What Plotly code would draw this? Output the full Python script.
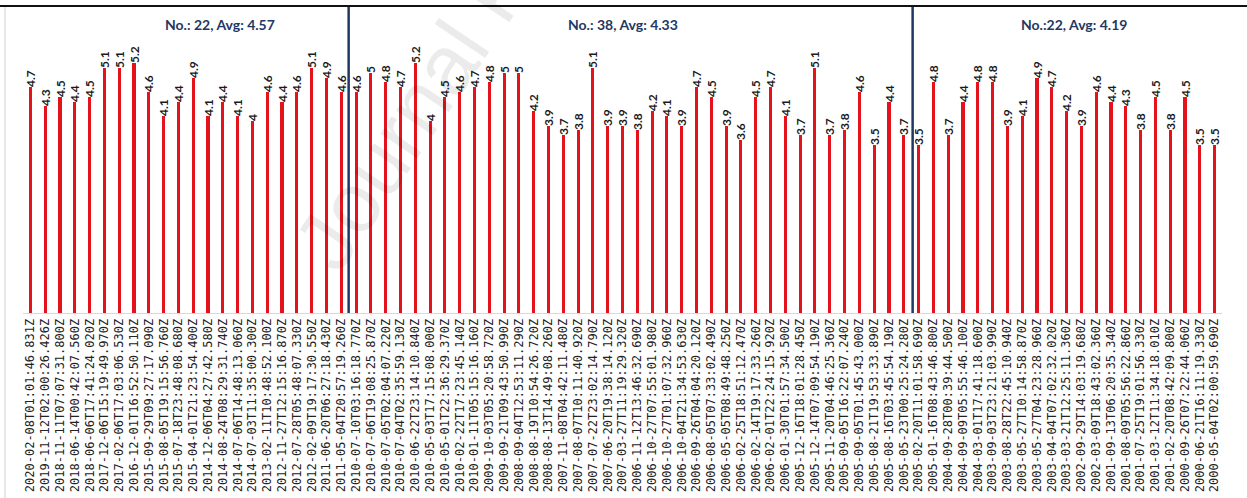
import plotly.graph_objects as go

# Event timestamps (x-axis categories), newest first
timestamps = [
    "2020-02-08T01:01:46.831Z", "2019-11-12T02:00:26.426Z", "2018-11-11T07:07:31.800Z",
    "2018-06-14T00:42:07.560Z", "2018-06-06T17:41:24.020Z", "2017-12-06T15:19:49.970Z",
    "2017-02-06T17:03:06.530Z", "2016-12-01T16:52:50.110Z", "2015-09-29T09:27:17.090Z",
    "2015-08-05T19:15:56.760Z", "2015-07-18T23:48:08.680Z", "2015-04-01T21:23:54.400Z",
    "2014-12-06T04:27:42.580Z", "2014-08-24T08:29:31.740Z", "2014-07-06T14:48:13.060Z",
    "2014-07-03T11:35:00.300Z", "2013-02-11T10:48:52.100Z", "2012-11-27T12:15:16.870Z",
    "2012-07-28T05:48:07.330Z", "2012-02-09T19:17:30.550Z", "2011-06-20T06:27:18.430Z",
    "2011-05-04T20:57:19.260Z",
    "2010-07-10T03:16:18.770Z", "2010-07-06T19:08:25.870Z", "2010-07-05T02:04:07.220Z",
    "2010-07-04T02:35:59.130Z", "2010-06-22T23:14:10.840Z", "2010-05-03T17:15:08.000Z",
    "2010-05-01T22:36:29.370Z", "2010-02-22T17:23:45.140Z", "2010-01-11T05:15:16.160Z",
    "2009-10-03T05:20:58.720Z", "2009-09-21T09:43:50.990Z", "2008-09-04T12:53:11.290Z",
    "2008-08-19T10:54:26.720Z", "2008-08-13T14:49:08.260Z", "2007-11-08T04:42:11.480Z",
    "2007-08-07T10:11:40.920Z", "2007-07-22T23:02:14.790Z", "2007-06-20T19:38:14.120Z",
    "2007-03-27T11:19:29.320Z", "2006-11-12T13:46:32.690Z", "2006-10-27T07:55:01.980Z",
    "2006-10-27T01:07:32.960Z", "2006-10-04T21:34:53.630Z", "2006-09-26T04:04:20.120Z",
    "2006-08-05T07:33:02.490Z", "2006-05-05T08:49:48.250Z", "2006-02-25T18:51:12.470Z",
    "2006-02-14T19:17:33.260Z", "2006-02-01T22:24:15.920Z", "2006-01-30T01:57:34.500Z",
    "2005-12-16T18:01:28.450Z", "2005-12-14T07:09:54.190Z", "2005-11-20T04:46:25.360Z",
    "2005-09-05T16:22:07.240Z", "2005-09-05T01:45:43.000Z", "2005-08-21T19:53:33.890Z",
    "2005-08-16T03:45:54.190Z", "2005-05-23T00:25:24.280Z",
    "2005-02-20T11:01:58.690Z", "2005-01-16T08:43:46.800Z", "2004-09-28T00:39:44.500Z",
    "2004-09-09T05:55:46.100Z", "2004-03-01T17:41:18.600Z", "2003-09-03T23:21:03.990Z",
    "2003-08-28T22:45:10.940Z", "2003-05-27T10:14:58.870Z", "2003-05-27T04:23:28.960Z",
    "2003-04-04T07:02:32.020Z", "2003-03-21T12:25:11.360Z", "2002-09-29T14:03:19.680Z",
    "2002-03-09T18:43:02.360Z", "2001-09-13T06:20:35.340Z", "2001-08-09T05:56:22.860Z",
    "2001-07-25T19:01:56.330Z", "2001-03-12T11:34:18.010Z", "2001-02-20T08:42:09.800Z",
    "2000-09-26T07:22:44.060Z", "2000-06-21T16:11:19.330Z", "2000-05-04T02:00:59.690Z",
]

# Magnitudes per period
magnitudes_2011_2020 = [4.7, 4.3, 4.5, 4.4, 4.5, 5.1, 5.1, 5.2, 4.6, 4.1, 4.4,
                        4.9, 4.1, 4.4, 4.1, 4, 4.6, 4.4, 4.6, 5.1, 4.9, 4.6]
magnitudes_2005_2010 = [4.6, 5, 4.8, 4.7, 5.2, 4, 4.5, 4.6, 4.7, 4.8, 5, 5, 4.2,
                        3.9, 3.7, 3.8, 5.1, 3.9, 3.9, 3.8, 4.2, 4.1, 3.9, 4.7,
                        4.5, 3.9, 3.6, 4.5, 4.7, 4.1, 3.7, 5.1, 3.7, 3.8, 4.6,
                        3.5, 4.4, 3.7]
magnitudes_2000_2005 = [3.5, 4.8, 3.7, 4.4, 4.8, 4.8, 3.9, 4.1, 4.9, 4.7, 4.2,
                        3.9, 4.6, 4.4, 4.3, 3.8, 4.5, 3.8, 4.5, 3.5, 3.5]

group_titles = ["No.: 22, Avg: 4.57", "No.: 38, Avg: 4.33", "No.:22, Avg: 4.19"]

magnitudes = magnitudes_2011_2020 + magnitudes_2005_2010 + magnitudes_2000_2005
xs = list(range(len(timestamps)))

W, H = 1247, 498
L, R, T, B = 23, 25, 7, 185
pw, ph = W - L - R, H - T - B

NAVY = "#1f3864"
BAR_RED = "#e3121b"

fig = go.Figure(go.Bar(
    x=xs, y=magnitudes,
    width=0.21,
    marker=dict(color=BAR_RED, line=dict(width=0)),
    text=[f"{v:g}" for v in magnitudes],
    textposition="outside",
    textangle=-90,
    constraintext="none",
    cliponaxis=False,
    textfont=dict(family="Lato", size=12, color="#1a1a1a", weight="bold"),
    hoverinfo="x+y",
))

# Separators between the periods
n1 = len(magnitudes_2011_2020)
n2 = len(magnitudes_2005_2010)
shapes = []
for pos in (n1 - 0.5, n1 + n2 - 0.5 + 0.1):
    shapes.append(dict(type="line", xref="x", yref="paper", x0=pos, x1=pos,
                       y0=0, y1=1, line=dict(color=NAVY, width=2.5)))

# Frame: dark top rule and light left edge
shapes.append(dict(type="line", xref="paper", yref="paper",
                   x0=-L / pw, x1=1 + R / pw, y0=1 + 1 / ph, y1=1 + 1 / ph,
                   line=dict(color="#111111", width=2)))
shapes.append(dict(type="line", xref="paper", yref="paper",
                   x0=(5 - L) / pw, x1=(5 - L) / pw, y0=1, y1=-(B) / ph,
                   line=dict(color="#d0d0d0", width=1)))

annotations = []
centers = [12.8, 40.0, 70.5]
for cx, title in zip(centers, group_titles):
    annotations.append(dict(x=cx, xref="x", y=1 - (24 - T) / ph, yref="paper",
                            xanchor="center", yanchor="middle",
                            text=f"<b>{title}</b>", showarrow=False,
                            font=dict(family="Lato", size=14, color=NAVY)))

# Faint publisher watermark
annotations.append(dict(x=(496 - L) / pw, y=1 + (T + 10) / ph, xref="paper", yref="paper",
                        xanchor="center", yanchor="middle",
                        text="Journal Pre-proof", showarrow=False, textangle=-56,
                        font=dict(family="Liberation Sans", size=84, color="rgba(0,0,0,0.08)")))

fig.update_layout(
    width=W, height=H,
    margin=dict(l=L, r=R, t=T, b=B, autoexpand=False),
    paper_bgcolor="white", plot_bgcolor="white",
    showlegend=False,
    bargap=0,
    shapes=shapes,
    annotations=annotations,
    xaxis=dict(
        range=[-0.5, len(xs) - 0.5],
        tickmode="array", tickvals=xs, ticktext=timestamps,
        tickangle=-90,
        tickfont=dict(family="DejaVu Sans Mono", size=12, color="#222222"),
        showline=True, linecolor="#d9d9d9", linewidth=1,
        showgrid=False, zeroline=False, ticks="",
    ),
    yaxis=dict(
        range=[0, 6.37],
        visible=False, showgrid=False, zeroline=False,
    ),
)

fig.write_html("out.html")
